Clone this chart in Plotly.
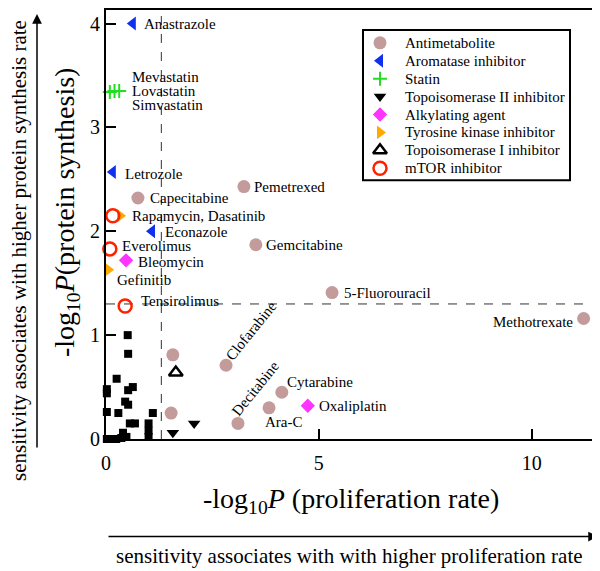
import plotly.graph_objects as go

# data: -log10 P (proliferation) vs -log10 P (protein synthesis)
anti_names = ["Capecitabine", "Pemetrexed", "Gemcitabine", "5-Fluorouracil", "Methotrexate",
              "Clofarabine", "", "", "Decitabine", "Ara-C", "Cytarabine"]
anti_x = [0.75, 3.24, 3.52, 5.31, 11.22, 2.82, 1.57, 1.53, 3.10, 3.83, 4.13]
anti_y = [2.32, 2.43, 1.87, 1.41, 1.16, 0.71, 0.81, 0.25, 0.15, 0.30, 0.45]

arom_names = ["Anastrazole", "Letrozole", "Econazole"]
arom_x = [0.63, 0.16, 1.08]
arom_y = [4.00, 2.57, 2.00]

statin_names = ["Mevastatin", "Lovastatin", "Simvastatin"]
statin_x = [0.09, 0.20, 0.31]
statin_y = [3.34, 3.35, 3.35]

topo2_x = [1.57, 2.07, 2.72]
topo2_y = [0.06, 0.15, -0.01]

alkyl_names = ["Bleomycin", "Oxaliplatin"]
alkyl_x = [0.47, 4.74]
alkyl_y = [1.72, 0.32]

tki_names = ["Dasatinib", "Gefinitib"]
tki_x = [0.33, 0.05]
tki_y = [2.15, 1.63]

topo1_x = [1.64]
topo1_y = [0.64]

mtor_names = ["Rapamycin", "Everolimus", "Tensirolimus"]
mtor_x = [0.16, 0.09, 0.45]
mtor_y = [2.15, 1.83, 1.28]

# unlabeled drugs (black squares)
other_x = [0.51, 0.52, 0.25, 0.02, 0.02, 0.63, 0.52, 0.45, 0.52, 0.02, 0.29, 1.10,
           0.56, 0.68, 1.00, 1.00, 1.00, 0.40, 0.48, 0.02, 0.24, 0.36, 0.10]
other_y = [1.00, 0.82, 0.58, 0.48, 0.44, 0.50, 0.47, 0.36, 0.33, 0.26, 0.25, 0.25,
           0.15, 0.15, 0.15, 0.08, 0.02, 0.06, 0.02, 0.00, 0.00, 0.01, 0.00]

threshold = 1.3

FONT = "Liberation Serif"

# page body has an 8px margin, so the figure is 8px smaller and everything sits 8px in.
# helpers turn page pixels of the layout into paper coordinates
L, R, T, B = 106, 593, 8, 439
def px(X):
    return (X - L) / (R - L)
def py(Y):
    return (B - Y) / (B - T)

fig = go.Figure()

fig.add_trace(go.Scatter(x=other_x, y=other_y, mode="markers", showlegend=False,
                         marker=dict(symbol="square", size=8, color="black"), cliponaxis=False))

series = [
    ("Antimetabolite", anti_x, anti_y, dict(symbol="circle", size=13, color="#c39b9b")),
    ("Aromatase inhibitor", arom_x, arom_y, dict(symbol="triangle-left", size=12, color="#1030f0")),
    ("Statin", statin_x, statin_y, dict(symbol="cross-thin", size=10, color="#22dd22",
                                        line=dict(width=2, color="#22dd22"))),
    ("Topoisomerase II inhibitor", topo2_x, topo2_y, dict(symbol="triangle-down", size=11, color="black")),
    ("Alkylating agent", alkyl_x, alkyl_y, dict(symbol="diamond", size=11, color="#ff33ff")),
    ("Tyrosine kinase inhibitor", tki_x, tki_y, dict(symbol="triangle-right", size=12, color="#ffaa00")),
    ("Topoisomerase I inhibitor", topo1_x, topo1_y, dict(symbol="triangle-up-open", size=12, color="black",
                                                          line=dict(width=2.5, color="black"))),
    ("mTOR inhibitor", mtor_x, mtor_y, dict(symbol="circle-open", size=13, color="#ff2200",
                                            line=dict(width=2.5, color="#ff2200"))),
]
for name, xs, ys, mk in series:
    fig.add_trace(go.Scatter(x=xs, y=ys, mode="markers", name=name, marker=mk,
                             cliponaxis=False, showlegend=False))

# hand-made legend box (tighter rows than plotly's own legend)
leg_x0, leg_x1, leg_y0, leg_y1 = 363, 570, 28, 179
row0, row_h, key_x, text_x = 41, 18, 380, 403
for i, (name, _, _, mk) in enumerate(series):
    yy = row0 + i * row_h
    fig.add_trace(go.Scatter(x=[key_x], y=[yy], xaxis="x2", yaxis="y2", mode="markers",
                             marker=mk, showlegend=False, hoverinfo="skip", cliponaxis=False))
    fig.add_annotation(x=px(text_x), y=py(yy), xref="paper", yref="paper", text=name,
                       showarrow=False, xanchor="left", yanchor="middle",
                       font=dict(family=FONT, size=15, color="black"))
fig.add_shape(type="rect", xref="paper", yref="paper", x0=px(leg_x0), x1=px(leg_x1),
              y0=py(leg_y1), y1=py(leg_y0), line=dict(color="black", width=2))

# point labels: (text, x, y, xanchor, xshift, yshift, angle)
def at(names, xs, ys, key):
    i = names.index(key)
    return xs[i], ys[i]

statin_anchor = at(statin_names, statin_x, statin_y, "Simvastatin")
labels = [
    ("Anastrazole", *at(arom_names, arom_x, arom_y, "Anastrazole"), "left", 9, 0, 0),
    ("Mevastatin", *statin_anchor, "left", 11, 14, 0),
    ("Lovastatin", *statin_anchor, "left", 11, 0, 0),
    ("Simvastatin", *statin_anchor, "left", 11, -14, 0),
    ("Letrozole", *at(arom_names, arom_x, arom_y, "Letrozole"), "left", 10, -2, 0),
    ("Capecitabine", *at(anti_names, anti_x, anti_y, "Capecitabine"), "left", 10, 0, 0),
    ("Pemetrexed", *at(anti_names, anti_x, anti_y, "Pemetrexed"), "left", 8, 0, 0),
    ("Rapamycin, Dasatinib", *at(tki_names, tki_x, tki_y, "Dasatinib"), "left", 10, 0, 0),
    ("Econazole", *at(arom_names, arom_x, arom_y, "Econazole"), "left", 11, -1, 0),
    ("Everolimus", *at(mtor_names, mtor_x, mtor_y, "Everolimus"), "left", 10, 3, 0),
    ("Gemcitabine", *at(anti_names, anti_x, anti_y, "Gemcitabine"), "left", 8, 0, 0),
    ("Bleomycin", *at(alkyl_names, alkyl_x, alkyl_y, "Bleomycin"), "left", 10, -2, 0),
    ("Gefinitib", *at(tki_names, tki_x, tki_y, "Gefinitib"), "left", 7, -10, 0),
    ("5-Fluorouracil", *at(anti_names, anti_x, anti_y, "5-Fluorouracil"), "left", 10, 0, 0),
    ("Tensirolimus", *at(mtor_names, mtor_x, mtor_y, "Tensirolimus"), "left", 14, 5, 0),
    ("Methotrexate", *at(anti_names, anti_x, anti_y, "Methotrexate"), "right", -9, -3, 0),
    ("Clofarabine", *at(anti_names, anti_x, anti_y, "Clofarabine"), "center", 25, 34, -51),
    ("Decitabine", *at(anti_names, anti_x, anti_y, "Decitabine"), "center", 18, 35, -51),
    ("Cytarabine", *at(anti_names, anti_x, anti_y, "Cytarabine"), "left", 3, 10, 0),
    ("Ara-C", *at(anti_names, anti_x, anti_y, "Ara-C"), "left", -6, -14, 0),
    ("Oxaliplatin", *at(alkyl_names, alkyl_x, alkyl_y, "Oxaliplatin"), "left", 9, 0, 0),
]
for text, x, y, xa, xs, ys, ang in labels:
    fig.add_annotation(x=x, y=y, text=text, showarrow=False, xanchor=xa, yanchor="middle",
                       xshift=xs, yshift=ys, textangle=ang,
                       font=dict(family=FONT, size=15, color="black"))

# significance thresholds
fig.add_shape(type="line", x0=threshold, x1=threshold, y0=0, y1=1, xref="x", yref="paper",
              line=dict(color="#333", width=1, dash="dash"), layer="below")
fig.add_shape(type="line", x0=0, x1=1, y0=threshold, y1=threshold, xref="paper", yref="y",
              line=dict(color="#333", width=1, dash="dash"), layer="below")

# axis titles and outer arrows
def outer_text(X, Y, text, size, angle=0):
    fig.add_annotation(x=px(X), y=py(Y), xref="paper", yref="paper", showarrow=False,
                       xanchor="center", yanchor="middle", textangle=angle, text=text,
                       font=dict(family=FONT, size=size, color="black"))

outer_text(351, 501, "-log<sub>10</sub><i>P</i> (proliferation rate)", 28)
outer_text(66, 212, "-log<sub>10</sub><i>P</i>(protein synthesis)", 28, -90)
outer_text(349, 557, "sensitivity associates with with higher proliferation rate", 21)
outer_text(19, 250, "sensitivity associates with higher protein synthesis rate", 21, -90)

fig.add_annotation(x=px(598), y=py(537), xref="paper", yref="paper", ax=-491, ay=0, text="",
                   showarrow=True, arrowhead=2, arrowsize=1.3, arrowwidth=1.5, arrowcolor="black")
fig.add_annotation(x=px(37), y=py(12), xref="paper", yref="paper", ax=0, ay=435, text="",
                   showarrow=True, arrowhead=2, arrowsize=1.3, arrowwidth=1.5, arrowcolor="black")

axis_style = dict(showgrid=False, zeroline=False, showline=True, linewidth=2, linecolor="black",
                  mirror=True, ticks="inside", ticklen=10, tickwidth=2, tickcolor="black",
                  tickfont=dict(family=FONT, size=20, color="black"))

fig.update_layout(
    width=600 - 8, height=571 - 8,
    margin=dict(l=L - 8, r=600 - R, t=0, b=571 - B),
    plot_bgcolor="white", paper_bgcolor="white",
    showlegend=False,
    xaxis=dict(range=[0, 11.44], tickvals=[0, 5, 10], ticklabelstandoff=5, **axis_style),
    yaxis=dict(range=[0, 4.13], tickvals=[0, 1, 2, 3, 4], **axis_style),
    # pixel-space overlay used only for the legend keys
    xaxis2=dict(range=[L, R], overlaying="x", visible=False),
    yaxis2=dict(range=[B, T], overlaying="y", visible=False),
)

fig.write_html("out.html")
